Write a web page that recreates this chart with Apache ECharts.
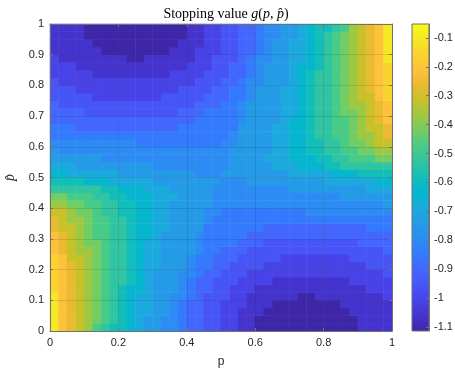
<!DOCTYPE html>
<html><head><meta charset="utf-8">
<script src="https://cdn.jsdelivr.net/npm/echarts@6/dist/echarts.min.js"></script>
<style>html,body{margin:0;padding:0;background:#fff}#c{width:455px;height:370px}</style>
</head><body><div id="c"></div>
<script>
// cell centres of the value grid (p across, p-hat up)
const pCenters = [0.0125,0.0375,0.0625,0.0875,0.1125,0.1375,0.1625,0.1875,0.2125,0.2375,0.2625,0.2875,0.3125,0.3375,0.3625,0.3875,0.4125,0.4375,0.4625,0.4875,
                  0.5125,0.5375,0.5625,0.5875,0.6125,0.6375,0.6625,0.6875,0.7125,0.7375,0.7625,0.7875,0.8125,0.8375,0.8625,0.8875,0.9125,0.9375,0.9625,0.9875];
const phatCenters = [0.0125,0.0375,0.0625,0.0875,0.1125,0.1375,0.1625,0.1875,0.2125,0.2375,0.2625,0.2875,0.3125,0.3375,0.3625,0.3875,0.4125,0.4375,0.4625,0.4875,
                     0.5125,0.5375,0.5625,0.5875,0.6125,0.6375,0.6625,0.6875,0.7125,0.7375,0.7625,0.7875,0.8125,0.8375,0.8625,0.8875,0.9125,0.9375,0.9625,0.9875];

// g(p, p-hat), one row per p-hat (bottom to top)
const g_r00 = [-0.08,-0.185,-0.24,-0.29,-0.345,-0.45,-0.50,-0.555,-0.555,-0.61,-0.66,-0.715,-0.715,-0.77,-0.77,-0.82,-0.875,-0.875,-0.93,-0.93,-0.98,-0.98,-1.035,-1.035,-1.09,-1.09,-1.09,-1.10,-1.10,-1.11,-1.11,-1.11,-1.10,-1.10,-1.09,-1.09,-1.035,-1.035,-1.035,-1.035];
const g_r01 = [-0.08,-0.185,-0.24,-0.29,-0.345,-0.395,-0.45,-0.50,-0.555,-0.61,-0.66,-0.715,-0.715,-0.77,-0.77,-0.82,-0.875,-0.875,-0.93,-0.93,-0.98,-0.98,-1.035,-1.035,-1.09,-1.09,-1.09,-1.10,-1.10,-1.10,-1.11,-1.10,-1.10,-1.09,-1.09,-1.09,-1.035,-1.035,-1.035,-1.035];
const g_r02 = [-0.08,-0.185,-0.24,-0.29,-0.345,-0.395,-0.45,-0.50,-0.555,-0.61,-0.66,-0.66,-0.715,-0.715,-0.77,-0.82,-0.875,-0.875,-0.93,-0.93,-0.98,-0.98,-1.035,-1.035,-1.035,-1.08,-1.09,-1.09,-1.10,-1.10,-1.10,-1.10,-1.09,-1.09,-1.08,-1.035,-1.035,-1.035,-1.035,-1.035];
const g_r03 = [-0.08,-0.185,-0.24,-0.29,-0.345,-0.395,-0.45,-0.50,-0.555,-0.61,-0.66,-0.66,-0.715,-0.715,-0.77,-0.82,-0.875,-0.875,-0.93,-0.93,-0.98,-0.98,-0.98,-1.035,-1.035,-1.035,-1.08,-1.085,-1.09,-1.09,-1.09,-1.09,-1.085,-1.08,-1.035,-1.035,-1.035,-1.035,-1.035,-1.035];
const g_r04 = [-0.08,-0.185,-0.24,-0.29,-0.345,-0.395,-0.45,-0.50,-0.555,-0.61,-0.66,-0.66,-0.715,-0.715,-0.77,-0.77,-0.82,-0.875,-0.93,-0.93,-0.93,-0.98,-0.98,-1.035,-1.035,-1.04,-1.045,-1.05,-1.055,-1.07,-1.07,-1.055,-1.05,-1.045,-1.04,-1.035,-1.03,-1.025,-1.02,-0.98];
const g_r05 = [-0.13,-0.185,-0.24,-0.29,-0.345,-0.395,-0.45,-0.50,-0.555,-0.61,-0.61,-0.66,-0.715,-0.715,-0.715,-0.77,-0.82,-0.875,-0.875,-0.93,-0.93,-0.98,-0.98,-0.98,-1.02,-1.03,-1.035,-1.04,-1.045,-1.05,-1.05,-1.045,-1.04,-1.035,-1.03,-1.02,-1.015,-0.99,-0.98,-0.97];
const g_r06 = [-0.13,-0.185,-0.24,-0.29,-0.345,-0.395,-0.45,-0.50,-0.50,-0.555,-0.61,-0.66,-0.715,-0.715,-0.715,-0.77,-0.82,-0.875,-0.875,-0.93,-0.93,-0.93,-0.98,-0.99,-1.0,-1.0,-1.015,-1.02,-1.025,-1.03,-1.03,-1.025,-1.02,-1.015,-1.01,-1.0,-0.99,-0.98,-0.97,-0.96];
const g_r07 = [-0.13,-0.185,-0.24,-0.29,-0.345,-0.395,-0.45,-0.50,-0.50,-0.555,-0.61,-0.66,-0.715,-0.715,-0.715,-0.77,-0.77,-0.82,-0.875,-0.875,-0.93,-0.93,-0.93,-0.96,-0.97,-0.98,-0.99,-0.995,-1.0,-1.0,-1.0,-1.0,-1.0,-0.995,-0.99,-0.985,-0.98,-0.97,-0.96,-0.94];
const g_r08 = [-0.13,-0.185,-0.26,-0.29,-0.345,-0.395,-0.45,-0.50,-0.50,-0.555,-0.61,-0.66,-0.66,-0.715,-0.715,-0.715,-0.77,-0.82,-0.82,-0.875,-0.875,-0.93,-0.93,-0.93,-0.94,-0.96,-0.97,-0.975,-0.98,-0.98,-0.98,-0.98,-0.98,-0.975,-0.97,-0.965,-0.96,-0.945,-0.935,-0.925];
const g_r09 = [-0.135,-0.19,-0.29,-0.30,-0.345,-0.395,-0.45,-0.50,-0.50,-0.555,-0.61,-0.66,-0.66,-0.715,-0.715,-0.715,-0.77,-0.82,-0.82,-0.875,-0.875,-0.88,-0.91,-0.92,-0.93,-0.94,-0.95,-0.96,-0.965,-0.97,-0.97,-0.97,-0.965,-0.96,-0.958,-0.95,-0.94,-0.93,-0.92,-0.91];
const g_r10 = [-0.185,-0.24,-0.29,-0.345,-0.35,-0.395,-0.45,-0.50,-0.50,-0.555,-0.61,-0.66,-0.66,-0.715,-0.715,-0.72,-0.73,-0.77,-0.82,-0.82,-0.86,-0.875,-0.89,-0.91,-0.92,-0.925,-0.93,-0.935,-0.94,-0.94,-0.94,-0.94,-0.935,-0.93,-0.925,-0.92,-0.915,-0.91,-0.905,-0.89];
const g_r11 = [-0.19,-0.24,-0.29,-0.345,-0.395,-0.40,-0.45,-0.50,-0.50,-0.555,-0.61,-0.66,-0.66,-0.715,-0.715,-0.72,-0.73,-0.77,-0.81,-0.82,-0.825,-0.835,-0.86,-0.87,-0.89,-0.905,-0.91,-0.915,-0.92,-0.92,-0.92,-0.92,-0.915,-0.91,-0.905,-0.903,-0.895,-0.89,-0.88,-0.87];
const g_r12 = [-0.20,-0.25,-0.30,-0.345,-0.395,-0.45,-0.46,-0.50,-0.51,-0.555,-0.61,-0.62,-0.66,-0.70,-0.715,-0.72,-0.73,-0.77,-0.80,-0.81,-0.82,-0.83,-0.84,-0.855,-0.865,-0.87,-0.875,-0.88,-0.885,-0.89,-0.89,-0.89,-0.885,-0.88,-0.875,-0.87,-0.865,-0.86,-0.855,-0.85];
const g_r13 = [-0.25,-0.29,-0.30,-0.345,-0.40,-0.45,-0.46,-0.50,-0.51,-0.555,-0.61,-0.62,-0.66,-0.67,-0.70,-0.715,-0.72,-0.735,-0.80,-0.805,-0.81,-0.815,-0.82,-0.83,-0.84,-0.855,-0.86,-0.865,-0.87,-0.87,-0.87,-0.87,-0.865,-0.86,-0.855,-0.853,-0.85,-0.84,-0.83,-0.82];
const g_r14 = [-0.255,-0.30,-0.345,-0.35,-0.40,-0.45,-0.46,-0.50,-0.51,-0.555,-0.61,-0.62,-0.66,-0.67,-0.70,-0.715,-0.72,-0.735,-0.77,-0.80,-0.805,-0.81,-0.815,-0.82,-0.825,-0.83,-0.835,-0.84,-0.84,-0.84,-0.84,-0.84,-0.835,-0.83,-0.825,-0.82,-0.815,-0.81,-0.805,-0.80];
const g_r15 = [-0.29,-0.31,-0.35,-0.395,-0.41,-0.45,-0.50,-0.51,-0.555,-0.575,-0.61,-0.62,-0.66,-0.67,-0.70,-0.715,-0.72,-0.735,-0.77,-0.78,-0.80,-0.805,-0.81,-0.81,-0.815,-0.815,-0.815,-0.81,-0.805,-0.80,-0.79,-0.79,-0.785,-0.785,-0.785,-0.78,-0.78,-0.78,-0.775,-0.775];
const g_r16 = [-0.345,-0.355,-0.395,-0.41,-0.45,-0.46,-0.50,-0.51,-0.555,-0.565,-0.61,-0.62,-0.66,-0.67,-0.70,-0.71,-0.72,-0.73,-0.74,-0.77,-0.78,-0.785,-0.79,-0.79,-0.79,-0.79,-0.79,-0.79,-0.785,-0.785,-0.78,-0.78,-0.775,-0.775,-0.77,-0.765,-0.76,-0.755,-0.75,-0.74];
const g_r17 = [-0.395,-0.40,-0.45,-0.455,-0.46,-0.50,-0.51,-0.555,-0.565,-0.61,-0.615,-0.625,-0.66,-0.67,-0.68,-0.70,-0.71,-0.72,-0.735,-0.76,-0.77,-0.775,-0.775,-0.775,-0.775,-0.77,-0.77,-0.77,-0.765,-0.765,-0.76,-0.755,-0.75,-0.745,-0.74,-0.735,-0.73,-0.725,-0.72,-0.715];
const g_r18 = [-0.48,-0.49,-0.50,-0.505,-0.51,-0.52,-0.555,-0.565,-0.59,-0.61,-0.625,-0.645,-0.655,-0.665,-0.695,-0.705,-0.715,-0.725,-0.735,-0.75,-0.76,-0.765,-0.765,-0.765,-0.76,-0.755,-0.75,-0.745,-0.735,-0.73,-0.725,-0.72,-0.715,-0.71,-0.705,-0.70,-0.695,-0.685,-0.675,-0.665];
const g_r19 = [-0.545,-0.55,-0.555,-0.565,-0.59,-0.60,-0.615,-0.64,-0.645,-0.655,-0.665,-0.68,-0.695,-0.70,-0.705,-0.71,-0.715,-0.72,-0.73,-0.74,-0.75,-0.755,-0.75,-0.74,-0.735,-0.73,-0.725,-0.72,-0.715,-0.71,-0.705,-0.70,-0.685,-0.68,-0.675,-0.665,-0.655,-0.645,-0.63,-0.62];
const g_r20 = [-0.62,-0.63,-0.645,-0.655,-0.665,-0.675,-0.68,-0.685,-0.70,-0.705,-0.71,-0.715,-0.72,-0.725,-0.73,-0.735,-0.74,-0.75,-0.755,-0.75,-0.74,-0.73,-0.72,-0.715,-0.71,-0.705,-0.70,-0.695,-0.68,-0.665,-0.655,-0.645,-0.64,-0.615,-0.60,-0.59,-0.565,-0.555,-0.55,-0.545];
const g_r21 = [-0.665,-0.675,-0.685,-0.695,-0.70,-0.705,-0.71,-0.715,-0.72,-0.725,-0.73,-0.735,-0.745,-0.75,-0.755,-0.76,-0.765,-0.765,-0.765,-0.76,-0.75,-0.735,-0.725,-0.715,-0.705,-0.695,-0.665,-0.655,-0.645,-0.625,-0.61,-0.59,-0.565,-0.555,-0.52,-0.51,-0.505,-0.50,-0.49,-0.48];
const g_r22 = [-0.715,-0.72,-0.725,-0.73,-0.735,-0.74,-0.745,-0.75,-0.755,-0.76,-0.765,-0.765,-0.77,-0.77,-0.77,-0.775,-0.775,-0.775,-0.775,-0.77,-0.76,-0.735,-0.72,-0.71,-0.70,-0.68,-0.67,-0.66,-0.625,-0.615,-0.61,-0.565,-0.555,-0.51,-0.50,-0.46,-0.455,-0.45,-0.40,-0.395];
const g_r23 = [-0.74,-0.75,-0.755,-0.76,-0.765,-0.77,-0.775,-0.775,-0.78,-0.78,-0.785,-0.785,-0.79,-0.79,-0.79,-0.79,-0.79,-0.79,-0.785,-0.78,-0.77,-0.74,-0.73,-0.72,-0.71,-0.70,-0.67,-0.66,-0.62,-0.61,-0.565,-0.555,-0.51,-0.50,-0.46,-0.45,-0.41,-0.395,-0.355,-0.345];
const g_r24 = [-0.775,-0.775,-0.78,-0.78,-0.78,-0.785,-0.785,-0.785,-0.79,-0.79,-0.80,-0.805,-0.81,-0.815,-0.815,-0.815,-0.81,-0.81,-0.805,-0.80,-0.78,-0.77,-0.735,-0.72,-0.715,-0.70,-0.67,-0.66,-0.62,-0.61,-0.575,-0.555,-0.51,-0.50,-0.45,-0.41,-0.395,-0.35,-0.31,-0.29];
const g_r25 = [-0.80,-0.805,-0.81,-0.815,-0.82,-0.825,-0.83,-0.835,-0.84,-0.84,-0.84,-0.84,-0.84,-0.835,-0.83,-0.825,-0.82,-0.815,-0.81,-0.805,-0.80,-0.77,-0.735,-0.72,-0.715,-0.70,-0.67,-0.66,-0.62,-0.61,-0.555,-0.51,-0.50,-0.46,-0.45,-0.40,-0.35,-0.345,-0.30,-0.255];
const g_r26 = [-0.82,-0.83,-0.84,-0.85,-0.853,-0.855,-0.86,-0.865,-0.87,-0.87,-0.87,-0.87,-0.865,-0.86,-0.855,-0.84,-0.83,-0.82,-0.815,-0.81,-0.805,-0.80,-0.735,-0.72,-0.715,-0.70,-0.67,-0.66,-0.62,-0.61,-0.555,-0.51,-0.50,-0.46,-0.45,-0.40,-0.345,-0.30,-0.29,-0.25];
const g_r27 = [-0.85,-0.855,-0.86,-0.865,-0.87,-0.875,-0.88,-0.885,-0.89,-0.89,-0.89,-0.885,-0.88,-0.875,-0.87,-0.865,-0.855,-0.84,-0.83,-0.82,-0.81,-0.80,-0.77,-0.73,-0.72,-0.715,-0.70,-0.66,-0.62,-0.61,-0.555,-0.51,-0.50,-0.46,-0.45,-0.395,-0.345,-0.30,-0.25,-0.20];
const g_r28 = [-0.87,-0.88,-0.89,-0.895,-0.903,-0.905,-0.91,-0.915,-0.92,-0.92,-0.92,-0.92,-0.915,-0.91,-0.905,-0.89,-0.87,-0.86,-0.835,-0.825,-0.82,-0.81,-0.77,-0.73,-0.72,-0.715,-0.715,-0.66,-0.66,-0.61,-0.555,-0.50,-0.50,-0.45,-0.40,-0.395,-0.345,-0.29,-0.24,-0.19];
const g_r29 = [-0.89,-0.905,-0.91,-0.915,-0.92,-0.925,-0.93,-0.935,-0.94,-0.94,-0.94,-0.94,-0.935,-0.93,-0.925,-0.92,-0.91,-0.89,-0.875,-0.86,-0.82,-0.82,-0.77,-0.73,-0.72,-0.715,-0.715,-0.66,-0.66,-0.61,-0.555,-0.50,-0.50,-0.45,-0.395,-0.35,-0.345,-0.29,-0.24,-0.185];
const g_r30 = [-0.91,-0.92,-0.93,-0.94,-0.95,-0.958,-0.96,-0.965,-0.97,-0.97,-0.97,-0.965,-0.96,-0.95,-0.94,-0.93,-0.92,-0.91,-0.88,-0.875,-0.875,-0.82,-0.82,-0.77,-0.715,-0.715,-0.715,-0.66,-0.66,-0.61,-0.555,-0.50,-0.50,-0.45,-0.395,-0.345,-0.30,-0.29,-0.19,-0.135];
const g_r31 = [-0.925,-0.935,-0.945,-0.96,-0.965,-0.97,-0.975,-0.98,-0.98,-0.98,-0.98,-0.98,-0.975,-0.97,-0.96,-0.94,-0.93,-0.93,-0.93,-0.875,-0.875,-0.82,-0.82,-0.77,-0.715,-0.715,-0.715,-0.66,-0.66,-0.61,-0.555,-0.50,-0.50,-0.45,-0.395,-0.345,-0.29,-0.26,-0.185,-0.13];
const g_r32 = [-0.94,-0.96,-0.97,-0.98,-0.985,-0.99,-0.995,-1.0,-1.0,-1.0,-1.0,-1.0,-0.995,-0.99,-0.98,-0.97,-0.96,-0.93,-0.93,-0.93,-0.875,-0.875,-0.82,-0.77,-0.77,-0.715,-0.715,-0.715,-0.66,-0.61,-0.555,-0.50,-0.50,-0.45,-0.395,-0.345,-0.29,-0.24,-0.185,-0.13];
const g_r33 = [-0.96,-0.97,-0.98,-0.99,-1.0,-1.01,-1.015,-1.02,-1.025,-1.03,-1.03,-1.025,-1.02,-1.015,-1.0,-1.0,-0.99,-0.98,-0.93,-0.93,-0.93,-0.875,-0.875,-0.82,-0.77,-0.715,-0.715,-0.715,-0.66,-0.61,-0.555,-0.50,-0.50,-0.45,-0.395,-0.345,-0.29,-0.24,-0.185,-0.13];
const g_r34 = [-0.97,-0.98,-0.99,-1.015,-1.02,-1.03,-1.035,-1.04,-1.045,-1.05,-1.05,-1.045,-1.04,-1.035,-1.03,-1.02,-0.98,-0.98,-0.98,-0.93,-0.93,-0.875,-0.875,-0.82,-0.77,-0.715,-0.715,-0.715,-0.66,-0.61,-0.61,-0.555,-0.50,-0.45,-0.395,-0.345,-0.29,-0.24,-0.185,-0.13];
const g_r35 = [-0.98,-1.02,-1.025,-1.03,-1.035,-1.04,-1.045,-1.05,-1.055,-1.07,-1.07,-1.055,-1.05,-1.045,-1.04,-1.035,-1.035,-0.98,-0.98,-0.93,-0.93,-0.93,-0.875,-0.82,-0.77,-0.77,-0.715,-0.715,-0.66,-0.66,-0.61,-0.555,-0.50,-0.45,-0.395,-0.345,-0.29,-0.24,-0.185,-0.08];
const g_r36 = [-1.035,-1.035,-1.035,-1.035,-1.035,-1.035,-1.08,-1.085,-1.09,-1.09,-1.09,-1.09,-1.085,-1.08,-1.035,-1.035,-1.035,-0.98,-0.98,-0.98,-0.93,-0.93,-0.875,-0.875,-0.82,-0.77,-0.715,-0.715,-0.66,-0.66,-0.61,-0.555,-0.50,-0.45,-0.395,-0.345,-0.29,-0.24,-0.185,-0.08];
const g_r37 = [-1.035,-1.035,-1.035,-1.035,-1.035,-1.08,-1.09,-1.09,-1.10,-1.10,-1.10,-1.10,-1.09,-1.09,-1.08,-1.035,-1.035,-1.035,-0.98,-0.98,-0.93,-0.93,-0.875,-0.875,-0.82,-0.77,-0.715,-0.715,-0.66,-0.66,-0.61,-0.555,-0.50,-0.45,-0.395,-0.345,-0.29,-0.24,-0.185,-0.08];
const g_r38 = [-1.035,-1.035,-1.035,-1.035,-1.09,-1.09,-1.09,-1.10,-1.10,-1.11,-1.10,-1.10,-1.10,-1.09,-1.09,-1.09,-1.035,-1.035,-0.98,-0.98,-0.93,-0.93,-0.875,-0.875,-0.82,-0.77,-0.77,-0.715,-0.715,-0.66,-0.61,-0.555,-0.50,-0.45,-0.395,-0.345,-0.29,-0.24,-0.185,-0.08];
const g_r39 = [-1.035,-1.035,-1.035,-1.035,-1.09,-1.09,-1.10,-1.10,-1.11,-1.11,-1.11,-1.10,-1.10,-1.09,-1.09,-1.09,-1.035,-1.035,-0.98,-0.98,-0.93,-0.93,-0.875,-0.875,-0.82,-0.77,-0.77,-0.715,-0.715,-0.66,-0.61,-0.555,-0.555,-0.50,-0.45,-0.345,-0.29,-0.24,-0.185,-0.08];
const gRows = [g_r00,g_r01,g_r02,g_r03,g_r04,g_r05,g_r06,g_r07,g_r08,g_r09,g_r10,g_r11,g_r12,g_r13,g_r14,g_r15,g_r16,g_r17,g_r18,g_r19,
               g_r20,g_r21,g_r22,g_r23,g_r24,g_r25,g_r26,g_r27,g_r28,g_r29,g_r30,g_r31,g_r32,g_r33,g_r34,g_r35,g_r36,g_r37,g_r38,g_r39];

// colour range and contour levels
const gMin = -1.114, gMax = -0.052;
const contourLevels = [-1.114,-1.0609,-1.0078,-0.9547,-0.9016,-0.8485,-0.7954,-0.7423,-0.6892,-0.6361,-0.583,-0.5299,-0.4768,-0.4237,-0.3706,-0.3175,-0.2644,-0.2113,-0.1582,-0.1051,-0.052];
const colorbarTicks = [-1.1,-1,-0.9,-0.8,-0.7,-0.6,-0.5,-0.4,-0.3,-0.2,-0.1];

// parula colours (style)
const bandColors = ['#3e26a8','#4433cc','#4743e7','#4755f6','#4367fd','#337afd','#2d8cf3','#259be7','#1caade','#05b6ce',
                    '#12beb9','#2fc5a2','#48cb86','#71cd64','#9fc842','#c8c129','#eaba31','#fec13a','#fad42e','#f5e825'];
const barColors = bandColors.concat(['#f9fb15']);

const data = [];
gRows.forEach((row, j) => row.forEach((v, i) => data.push([i, j, v])));
const pieces = bandColors.map((c, k) => {
  const pc = {color: c};
  if (k > 0) pc.gte = contourLevels[k];
  if (k < bandColors.length - 1) pc.lt = contourLevels[k + 1];
  return pc;
});

const axisCol = '#707070';
const lab = {color:'#262626', fontFamily:'Liberation Sans, Arial, sans-serif', fontSize:11};
const line = {show:true, onZero:false, lineStyle:{color:axisCol, width:1}};
const tick = {show:true, inside:true, length:3, lineStyle:{color:axisCol}};
const gridLine = {show:true, lineStyle:{color:'rgba(38,38,38,0.15)', width:1}};

const chart = echarts.init(document.getElementById('c'));
chart.setOption({
  animation:false,
  backgroundColor:'#fff',
  title:{
    text:'{r|Stopping value }{i|g}{r|(}{i|p}{r|, }{i|p\u0302}{r|)}',
    left:221, top:2, textAlign:'center',
    textStyle:{fontWeight:'normal', rich:{
      r:{fontFamily:'Liberation Serif', fontSize:14, fontWeight:'normal', color:'#000'},
      i:{fontFamily:'Liberation Serif', fontStyle:'italic', fontSize:14, fontWeight:'normal', color:'#000'}
    }}
  },
  grid:[
    {left:50, top:24, width:342, height:307, outerBoundsMode:'none'},
    {left:412, top:24, width:17, height:307, outerBoundsMode:'none'}
  ],
  xAxis:[
    {type:'category', gridIndex:0, data:pCenters, show:false},
    {type:'value', gridIndex:0, position:'bottom', min:0, max:1, interval:0.2, z:10,
     axisLine:line, axisTick:tick, axisLabel:Object.assign({margin:6}, lab), splitLine:gridLine,
     name:'p', nameLocation:'middle', nameGap:25,
     nameTextStyle:{color:'#262626', fontFamily:'Liberation Sans, Arial, sans-serif', fontSize:12}},
    {type:'value', gridIndex:0, position:'top', min:0, max:1, interval:0.2, z:10,
     axisLine:line, axisTick:tick, axisLabel:{show:false}, splitLine:{show:false}},
    {type:'category', gridIndex:1, data:['cb'], show:false}
  ],
  yAxis:[
    {type:'category', gridIndex:0, data:phatCenters, show:false},
    {type:'value', gridIndex:0, position:'left', min:0, max:1, interval:0.1, z:10,
     axisLine:line, axisTick:tick, axisLabel:Object.assign({margin:6}, lab), splitLine:gridLine,
     name:'p\u0302', nameLocation:'middle', nameGap:31, nameRotate:90,
     nameTextStyle:{color:'#262626', fontFamily:'Liberation Serif', fontStyle:'italic', fontSize:14}},
    {type:'value', gridIndex:0, position:'right', min:0, max:1, interval:0.1, z:10,
     axisLine:line, axisTick:tick, axisLabel:{show:false}, splitLine:{show:false}},
    {type:'value', gridIndex:1, position:'right', min:gMin, max:gMax, z:10,
     axisLine:line,
     axisTick:Object.assign({customValues:colorbarTicks}, tick),
     axisLabel:Object.assign({margin:5, customValues:colorbarTicks,
       formatter:v => String(Math.round(v * 10) / 10)}, lab),
     splitLine:{show:false}}
  ],
  visualMap:[{type:'piecewise', show:false, seriesIndex:0, dimension:2, pieces:pieces}],
  series:[
    {type:'heatmap', xAxisIndex:0, yAxisIndex:0, data:data, progressive:0,
     itemStyle:{borderWidth:0}, emphasis:{disabled:true}, silent:true},
    {type:'custom', xAxisIndex:3, yAxisIndex:3, data:[[0, gMin, gMax]], encode:{x:0, y:[1,2]}, silent:true,
     renderItem:(params, api) => {
       const top = api.coord([api.value(0), api.value(2)]);
       const bot = api.coord([api.value(0), api.value(1)]);
       const w = api.size([1, 0])[0];
       const stops = barColors.map((c, k) => ({offset:k / (barColors.length - 1), color:c}));
       return {type:'rect',
         shape:{x:top[0] - w / 2, y:top[1], width:w, height:bot[1] - top[1]},
         style:{fill:new echarts.graphic.LinearGradient(0, 1, 0, 0, stops), stroke:axisCol, lineWidth:1}};
     }}
  ]
});
</script>
</body></html>
